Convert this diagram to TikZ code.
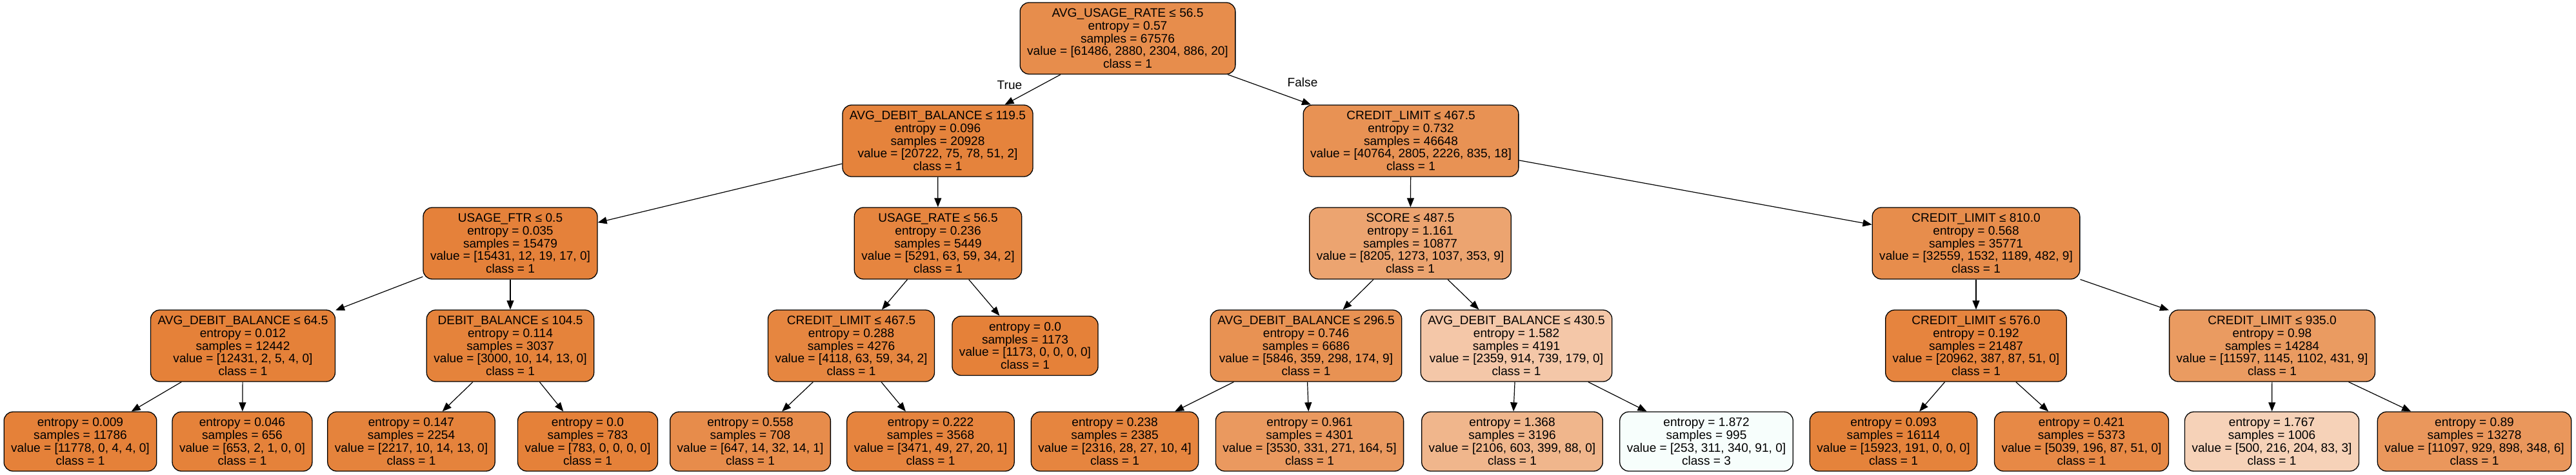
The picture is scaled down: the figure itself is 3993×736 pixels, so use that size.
\documentclass[tikz,border=0pt]{standalone}
\usepackage{fontspec}
\setmainfont{Liberation Sans}
\usetikzlibrary{arrows.meta}
\definecolor{cr}{HTML}{E78D4C}
\definecolor{ca}{HTML}{E5833C}
\definecolor{cb}{HTML}{E89254}
\definecolor{cc}{HTML}{E5813A}
\definecolor{cd}{HTML}{E6853F}
\definecolor{ce}{HTML}{ECA470}
\definecolor{cf}{HTML}{E78D4C}
\definecolor{cg}{HTML}{E58139}
\definecolor{ch}{HTML}{E5833B}
\definecolor{ci}{HTML}{E68640}
\definecolor{cj}{HTML}{E58139}
\definecolor{ck}{HTML}{E89253}
\definecolor{cl}{HTML}{F4C7A8}
\definecolor{cm}{HTML}{E6843E}
\definecolor{cn}{HTML}{EA9B61}
\definecolor{cL1}{HTML}{E58139}
\definecolor{cL2}{HTML}{E5823A}
\definecolor{cL3}{HTML}{E5833C}
\definecolor{cL4}{HTML}{E58139}
\definecolor{cL5}{HTML}{E78C4B}
\definecolor{cL6}{HTML}{E6843E}
\definecolor{cL7}{HTML}{E6853F}
\definecolor{cL8}{HTML}{EA995F}
\definecolor{cL9}{HTML}{F0B68C}
\definecolor{cL10}{HTML}{F7FEFC}
\definecolor{cL11}{HTML}{E5833B}
\definecolor{cL12}{HTML}{E78946}
\definecolor{cL13}{HTML}{F6D2B8}
\definecolor{cL14}{HTML}{EA975C}
\begin{document}
\begin{tikzpicture}[x=1pt,y=-1pt,
  every node/.style={font=\fontsize{19.1}{19.8}\selectfont},
  tnode/.style={draw=black, line width=1.3pt, rectangle, rounded corners=14pt,
    align=center, inner xsep=11pt, inner ysep=0pt, minimum height=111pt},
  leaf/.style={tnode, minimum height=92pt},
  edge/.style={line width=1.2pt, -{Triangle[length=14pt,width=11pt]}},
  elab/.style={inner sep=0pt}]
\useasboundingbox (0,0) rectangle (3993,736);
% row 0
\node[tnode, fill=cr] (r) at (1748,59.5) {AVG\_USAGE\_RATE ≤ 56.5\\entropy = 0.57\\samples = 67576\\value = [61486, 2880, 2304, 886, 20]\\class = 1};
% row 1
\node[tnode, fill=ca] (a) at (1453.5,218.5) {AVG\_DEBIT\_BALANCE ≤ 119.5\\entropy = 0.096\\samples = 20928\\value = [20722, 75, 78, 51, 2]\\class = 1};
\node[tnode, fill=cb] (b) at (2187,218.5) {CREDIT\_LIMIT ≤ 467.5\\entropy = 0.732\\samples = 46648\\value = [40764, 2805, 2226, 835, 18]\\class = 1};
% row 2
\node[tnode, fill=cc] (c) at (791,377.5) {USAGE\_FTR ≤ 0.5\\entropy = 0.035\\samples = 15479\\value = [15431, 12, 19, 17, 0]\\class = 1};
\node[tnode, fill=cd] (d) at (1454,377.5) {USAGE\_RATE ≤ 56.5\\entropy = 0.236\\samples = 5449\\value = [5291, 63, 59, 34, 2]\\class = 1};
\node[tnode, fill=ce] (e) at (2186,377.5) {SCORE ≤ 487.5\\entropy = 1.161\\samples = 10877\\value = [8205, 1273, 1037, 353, 9]\\class = 1};
\node[tnode, fill=cf] (f) at (3063,377.5) {CREDIT\_LIMIT ≤ 810.0\\entropy = 0.568\\samples = 35771\\value = [32559, 1532, 1189, 482, 9]\\class = 1};
% row 3
\node[tnode, fill=cg] (g) at (376.5,536.5) {AVG\_DEBIT\_BALANCE ≤ 64.5\\entropy = 0.012\\samples = 12442\\value = [12431, 2, 5, 4, 0]\\class = 1};
\node[tnode, fill=ch] (h) at (791,536.5) {DEBIT\_BALANCE ≤ 104.5\\entropy = 0.114\\samples = 3037\\value = [3000, 10, 14, 13, 0]\\class = 1};
\node[tnode, fill=ci] (i) at (1319.5,536.5) {CREDIT\_LIMIT ≤ 467.5\\entropy = 0.288\\samples = 4276\\value = [4118, 63, 59, 34, 2]\\class = 1};
\node[leaf, fill=cj] (j) at (1589,536.5) {entropy = 0.0\\samples = 1173\\value = [1173, 0, 0, 0, 0]\\class = 1};
\node[tnode, fill=ck] (k) at (2024.5,536.5) {AVG\_DEBIT\_BALANCE ≤ 296.5\\entropy = 0.746\\samples = 6686\\value = [5846, 359, 298, 174, 9]\\class = 1};
\node[tnode, fill=cl] (l) at (2350.5,536.5) {AVG\_DEBIT\_BALANCE ≤ 430.5\\entropy = 1.582\\samples = 4191\\value = [2359, 914, 739, 179, 0]\\class = 1};
\node[tnode, fill=cm] (m) at (3063,536.5) {CREDIT\_LIMIT ≤ 576.0\\entropy = 0.192\\samples = 21487\\value = [20962, 387, 87, 51, 0]\\class = 1};
\node[tnode, fill=cn] (n) at (3522,536.5) {CREDIT\_LIMIT ≤ 935.0\\entropy = 0.98\\samples = 14284\\value = [11597, 1145, 1102, 431, 9]\\class = 1};
% row 4 leaves
\node[leaf, fill=cL1] (L1) at (124.5,685) {entropy = 0.009\\samples = 11786\\value = [11778, 0, 4, 4, 0]\\class = 1};
\node[leaf, fill=cL2] (L2) at (375.5,685) {entropy = 0.046\\samples = 656\\value = [653, 2, 1, 0, 0]\\class = 1};
\node[leaf, fill=cL3] (L3) at (637.5,685) {entropy = 0.147\\samples = 2254\\value = [2217, 10, 14, 13, 0]\\class = 1};
\node[leaf, fill=cL4] (L4) at (911,685) {entropy = 0.0\\samples = 783\\value = [783, 0, 0, 0, 0]\\class = 1};
\node[leaf, fill=cL5] (L5) at (1163,685) {entropy = 0.558\\samples = 708\\value = [647, 14, 32, 14, 1]\\class = 1};
\node[leaf, fill=cL6] (L6) at (1442.5,685) {entropy = 0.222\\samples = 3568\\value = [3471, 49, 27, 20, 1]\\class = 1};
\node[leaf, fill=cL7] (L7) at (1728,685) {entropy = 0.238\\samples = 2385\\value = [2316, 28, 27, 10, 4]\\class = 1};
\node[leaf, fill=cL8] (L8) at (2030,685) {entropy = 0.961\\samples = 4301\\value = [3530, 331, 271, 164, 5]\\class = 1};
\node[leaf, fill=cL9] (L9) at (2344,685) {entropy = 1.368\\samples = 3196\\value = [2106, 603, 399, 88, 0]\\class = 1};
\node[leaf, fill=cL10] (L10) at (2645,685) {entropy = 1.872\\samples = 995\\value = [253, 311, 340, 91, 0]\\class = 3};
\node[leaf, fill=cL11] (L11) at (2935,685) {entropy = 0.093\\samples = 16114\\value = [15923, 191, 0, 0, 0]\\class = 1};
\node[leaf, fill=cL12] (L12) at (3226.5,685) {entropy = 0.421\\samples = 5373\\value = [5039, 196, 87, 51, 0]\\class = 1};
\node[leaf, fill=cL13] (L13) at (3521.5,685) {entropy = 1.767\\samples = 1006\\value = [500, 216, 204, 83, 3]\\class = 1};
\node[leaf, fill=cL14] (L14) at (3835.5,685) {entropy = 0.89\\samples = 13278\\value = [11097, 929, 898, 348, 6]\\class = 1};
% edge labels
\node[elab] (tl) at (1565,132) {True};
\node[elab] (fl) at (2019,128) {False};
% edges
\foreach \p/\q in {r/a, r/b, a/c, a/d, b/e, b/f, c/g, c/h, d/i, d/j, e/k, e/l, f/m, f/n,
  g/L1, g/L2, h/L3, h/L4, i/L5, i/L6, k/L7, k/L8, l/L9, l/L10, m/L11, m/L12, n/L13, n/L14}
  \draw[edge] (\p) -- (\q);
\end{tikzpicture}
\end{document}
